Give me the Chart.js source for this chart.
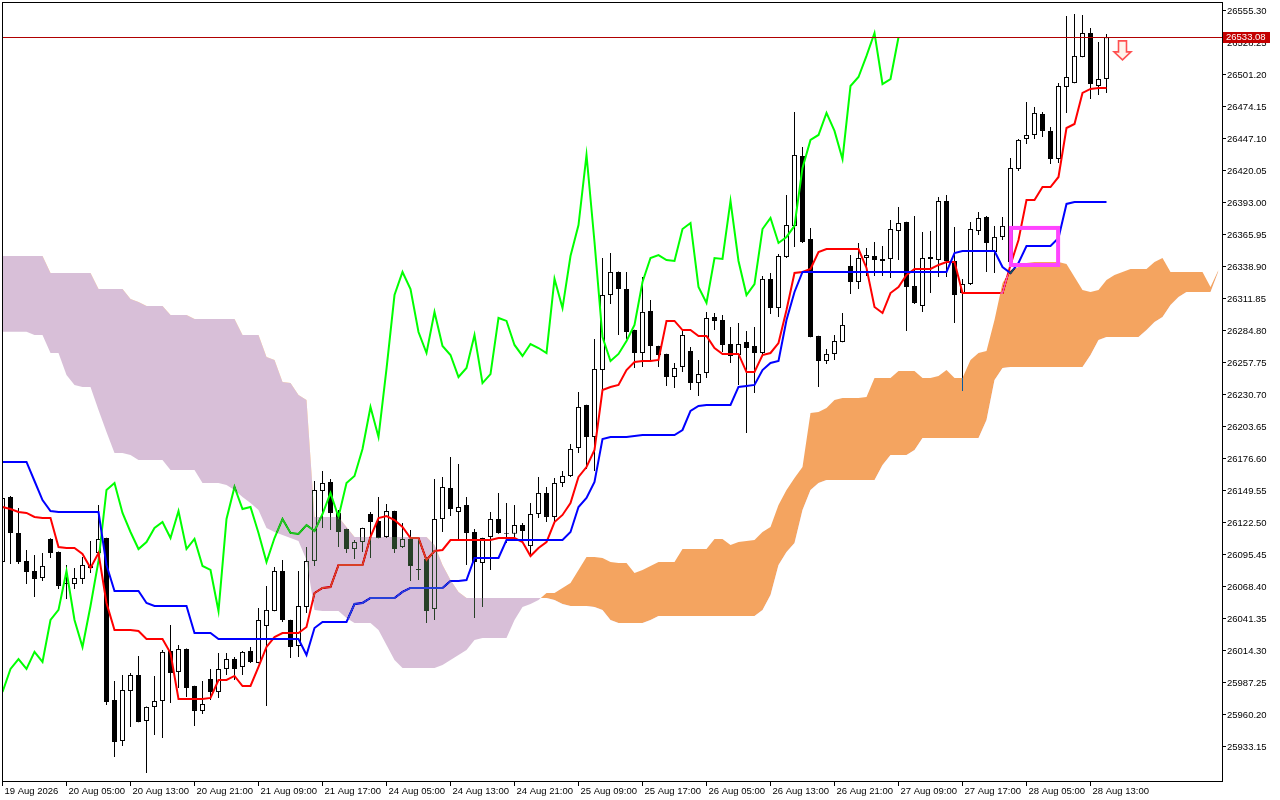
<!DOCTYPE html>
<html><head><meta charset="utf-8">
<script src="https://cdn.jsdelivr.net/npm/chart.js@4.4.0/dist/chart.umd.min.js"></script>
<style>html,body{margin:0;padding:0;background:#fff;overflow:hidden}canvas{display:block}</style>
</head><body>
<canvas id="c" width="1280" height="800"></canvas>
<script>
const open=[26089.5,26144.5,26114.1,26090.4,26081.9,26076.0,26109.0,26098.0,26071.8,26070.9,
26075.2,26084.5,26097.1,26109.8,25972.9,25938.2,25980.5,25994.0,25955.1,25967.0,
25972.0,26014.3,25996.6,26016.0,25984.7,25963.6,25990.6,25979.6,25999.1,26007.5,
26000.8,26014.3,26004.2,26035.4,26048.1,26081.9,26040.5,26018.5,26051.5,26090.4,
26149.6,26157.2,26131.0,26117.4,26100.5,26106.4,26130.1,26124.2,26110.7,26132.6,
26102.2,26109.0,26083.6,26092.1,26049.8,26125.9,26152.1,26131.8,26137.7,26114.9,
26088.7,26110.7,26125.9,26114.1,26113.3,26120.8,26103.0,26130.1,26147.9,26127.6,
26156.3,26162.2,26185.9,26222.3,26195.2,26251.8,26315.2,26334.7,26320.3,26285.6,
26266.2,26301.7,26272.1,26265.4,26245.9,26254.4,26267.9,26240.8,26249.3,26296.6,
26294.1,26273.8,26264.5,26275.5,26272.1,26266.2,26328.8,26304.2,26347.4,26373.6,
26432.7,26362.6,26280.5,26259.4,26265.4,26275.5,26339.8,26326.2,26346.5,26348.2,
26345.7,26345.7,26369.3,26376.9,26322.8,26305.9,26347.4,26344.8,26394.7,26344.0,
26316.9,26324.5,26369.3,26381.2,26351.6,26364.3,26343.1,26421.7,26447.1,26450.5,
26468.2,26453.9,26430.2,26491.1,26494.4,26516.4,26536.7,26491.9,26497.8];
const high=[26146.2,26145.3,26135.2,26099.7,26095.5,26097.1,26109.5,26098.5,26087.0,26084.5,
26093.8,26107.3,26137.7,26110.0,25988.9,25994.0,25995.7,26010.1,25967.3,25993.2,
26015.1,26036.3,26019.4,26016.3,25985.0,25988.9,25999.1,26012.6,26012.6,26009.2,
26014.3,26017.7,26050.7,26069.3,26085.3,26091.2,26040.7,26081.9,26102.2,26158.0,
26166.5,26159.7,26133.5,26117.6,26108.1,26118.5,26131.8,26144.5,26138.6,26132.8,
26122.5,26116.6,26110.7,26093.8,26159.7,26161.4,26178.3,26172.4,26144.5,26117.4,
26110.0,26131.8,26147.9,26139.4,26137.7,26122.5,26139.4,26161.4,26152.9,26160.5,
26166.5,26189.3,26233.2,26222.5,26278.0,26346.5,26350.7,26335.0,26334.7,26285.8,
26330.4,26311.0,26272.3,26265.6,26257.8,26285.6,26271.3,26260.3,26300.9,26300.0,
26298.3,26288.2,26291.6,26284.8,26288.2,26331.3,26333.8,26349.9,26399.8,26469.9,
26440.3,26371.9,26280.7,26269.6,26281.4,26300.0,26349.0,26359.2,26354.9,26360.0,
26356.6,26378.6,26389.6,26377.1,26382.0,26368.5,26369.3,26398.1,26399.8,26372.7,
26328.8,26376.9,26385.4,26382.0,26373.6,26381.2,26431.0,26447.1,26478.4,26474.2,
26469.9,26457.2,26494.4,26551.1,26552.8,26551.9,26540.9,26529.1,26535.9];
const low=[26087.0,26087.8,26087.8,26070.9,26060.0,26073.5,26092.9,26066.7,26058.3,26066.7,
26070.9,26080.2,26095.5,25968.7,25924.7,25934.0,25950.1,25954.0,25911.2,25943.3,
25940.8,25970.3,25983.0,25975.4,25950.9,25961.0,25972.9,25974.6,25994.0,25989.8,
25994.0,26004.2,26004.0,25967.8,26047.9,26038.8,26008.4,26009.2,26046.4,26086.2,
26118.3,26116.6,26102.2,26097.1,26092.1,26098.0,26092.9,26109.6,26109.8,26097.1,
26101.4,26073.5,26074.3,26038.0,26040.5,26114.9,26128.4,26108.1,26087.0,26042.2,
26051.5,26082.8,26113.3,26105.6,26110.7,26105.6,26093.8,26126.7,26123.3,26123.3,
26152.9,26161.4,26181.7,26168.1,26166.5,26234.9,26307.6,26281.4,26278.0,26253.5,
26254.4,26260.3,26254.4,26238.3,26236.6,26250.1,26234.9,26229.9,26245.1,26285.6,
26267.1,26257.8,26239.2,26198.6,26232.4,26264.5,26299.2,26296.6,26346.5,26355.8,
26359.2,26279.5,26237.5,26256.9,26260.3,26275.3,26316.1,26320.3,26331.3,26331.3,
26331.3,26329.6,26344.8,26284.8,26307.6,26300.9,26316.9,26330.5,26330.5,26291.6,
26234.1,26323.7,26365.9,26334.7,26333.8,26361.7,26339.8,26420.1,26442.9,26447.1,
26448.8,26426.0,26426.8,26469.1,26494.2,26516.2,26480.9,26484.3,26486.0];
const close=[26143.6,26114.1,26089.5,26081.1,26075.2,26086.2,26097.1,26069.3,26070.9,26076.0,
26087.0,26086.2,26109.0,25971.2,25937.4,25981.3,25994.0,25954.3,25967.0,25972.0,
26013.5,25995.7,26016.0,25983.0,25963.6,25969.5,25979.6,25999.1,26007.5,25999.1,
26013.5,26005.0,26040.5,26049.0,26081.9,26040.5,26017.7,26052.3,26090.4,26150.4,
26156.3,26131.0,26114.9,26100.5,26106.4,26118.3,26123.3,26109.8,26132.6,26100.5,
26109.0,26086.2,26082.8,26048.1,26125.9,26152.9,26134.3,26136.0,26114.1,26089.5,
26109.8,26125.9,26114.1,26113.3,26120.8,26115.7,26130.1,26147.9,26127.6,26156.3,
26162.2,26185.1,26220.6,26195.2,26252.7,26315.2,26334.7,26320.3,26283.9,26266.2,
26300.9,26272.1,26264.5,26245.9,26253.5,26281.4,26240.8,26248.4,26295.8,26293.3,
26273.0,26263.7,26273.8,26270.4,26266.2,26328.8,26304.2,26348.2,26374.4,26433.6,
26360.0,26279.7,26259.4,26265.4,26276.3,26289.9,26326.2,26346.5,26349.0,26344.8,
26344.0,26371.0,26376.1,26322.0,26308.5,26346.5,26345.7,26394.7,26344.0,26315.2,
26324.5,26371.0,26380.3,26359.2,26364.3,26373.6,26422.6,26446.3,26450.5,26469.1,
26453.9,26430.2,26491.9,26499.5,26517.3,26536.7,26493.6,26497.8,26533.08];
const tenkan=[26136.0,26134.3,26131.8,26131.0,26127.6,26126.7,26126.7,26102.2,26101.4,26101.4,
26096.3,26084.5,26097.1,26054.9,26032.1,26032.1,26032.1,26031.2,26024.4,26024.4,
26024.4,26012.6,25973.7,25973.7,25973.7,25973.7,25974.6,25989.8,25989.8,25993.2,
25984.7,25984.7,26000.8,26017.7,26026.1,26029.5,26029.5,26029.5,26034.6,26063.3,
26067.6,26068.4,26087.0,26087.0,26087.0,26087.0,26110.7,26126.7,26128.4,26125.0,
26119.2,26109.8,26109.8,26091.2,26098.8,26099.7,26108.1,26108.1,26108.1,26108.1,
26108.1,26108.1,26109.8,26109.8,26109.8,26106.4,26094.6,26101.4,26106.4,26123.3,
26129.3,26139.4,26161.4,26169.8,26184.2,26234.9,26237.5,26239.2,26251.8,26258.6,
26259.4,26259.4,26260.3,26293.3,26293.3,26285.6,26285.6,26280.6,26280.6,26270.4,
26265.4,26265.4,26265.4,26250.1,26250.1,26264.5,26266.2,26274.6,26302.6,26333.8,
26334.7,26337.2,26351.6,26354.1,26354.1,26354.1,26354.1,26354.1,26338.1,26305.1,
26300.0,26316.9,26322.0,26332.1,26337.2,26337.2,26337.2,26340.6,26343.1,26343.1,
26316.9,26316.9,26316.9,26316.9,26316.9,26316.9,26340.6,26361.7,26395.5,26395.5,
26406.5,26406.5,26415.0,26456.4,26459.8,26486.0,26489.4,26490.2,26490.2];
const kijun=[26174.1,26174.1,26174.1,26174.1,26158.0,26141.9,26132.6,26131.8,26131.8,26131.8,
26131.8,26131.8,26131.8,26087.0,26065.0,26065.0,26065.0,26065.0,26054.9,26052.3,
26052.3,26052.3,26052.3,26052.3,26029.5,26029.5,26029.5,26024.4,26024.4,26024.4,
26024.4,26024.4,26024.4,26024.4,26024.4,26024.4,26024.4,26024.4,26010.9,26033.7,
26038.8,26038.8,26038.8,26038.8,26054.0,26054.9,26059.1,26059.1,26059.1,26059.1,
26064.2,26067.6,26067.6,26067.6,26067.6,26067.6,26073.5,26073.5,26074.3,26092.9,
26092.9,26092.9,26092.9,26108.1,26108.1,26108.1,26108.1,26108.1,26108.1,26108.1,
26108.1,26114.9,26136.0,26143.6,26157.2,26193.5,26195.2,26195.2,26195.2,26196.0,
26196.9,26196.9,26196.9,26196.9,26196.9,26201.1,26217.2,26221.4,26222.3,26222.3,
26222.3,26222.3,26237.5,26238.3,26239.2,26251.8,26257.8,26259.4,26294.1,26317.8,
26334.7,26334.7,26334.7,26334.7,26334.7,26334.7,26334.7,26334.7,26334.7,26334.7,
26334.7,26334.7,26334.7,26334.7,26334.7,26334.7,26334.7,26334.7,26334.7,26350.7,
26352.4,26352.4,26352.4,26352.4,26352.4,26338.9,26333.8,26342.3,26356.6,26356.6,
26356.6,26356.6,26363.4,26392.2,26393.9,26393.9,26393.9,26393.9,26393.9];
const chikou=[25979.6,25999.1,26007.5,25999.1,26013.5,26005.0,26040.5,26049.0,26081.9,26040.5,
26017.7,26052.3,26090.4,26150.4,26156.3,26131.0,26114.9,26100.5,26106.4,26118.3,
26123.3,26109.8,26132.6,26100.5,26109.0,26086.2,26082.8,26048.1,26125.9,26152.9,
26134.3,26136.0,26114.1,26089.5,26109.8,26125.9,26114.1,26113.3,26120.8,26115.7,
26130.1,26147.9,26127.6,26156.3,26162.2,26185.1,26220.6,26195.2,26252.7,26315.2,
26334.7,26320.3,26283.9,26266.2,26300.9,26272.1,26264.5,26245.9,26253.5,26281.4,
26240.8,26248.4,26295.8,26293.3,26273.0,26263.7,26273.8,26270.4,26266.2,26328.8,
26304.2,26348.2,26374.4,26433.6,26360.0,26279.7,26259.4,26265.4,26276.3,26289.9,
26326.2,26346.5,26349.0,26344.8,26344.0,26371.0,26376.1,26322.0,26308.5,26346.5,
26345.7,26394.7,26344.0,26315.2,26324.5,26371.0,26380.3,26359.2,26364.3,26373.6,
26422.6,26446.3,26450.5,26469.1,26453.9,26430.2,26491.9,26499.5,26517.3,26536.7,
26493.6,26497.8,26533.08];
const spanA=[26284.2,26284.2,26284.2,26284.2,26281.4,26281.4,26266.2,26266.2,26247.6,26239.2,
26237.5,26237.5,26218.0,26199.4,26181.7,26181.7,26180.0,26175.8,26175.8,26175.8,
26175.8,26167.3,26167.3,26167.3,26167.3,26156.3,26156.3,26156.3,26154.6,26150.4,
26144.5,26139.4,26133.5,26118.3,26114.9,26112.4,26109.8,26107.3,26091.2,26049.0,
26048.1,26048.1,26048.1,26042.2,26038.0,26038.0,26038.0,26032.1,26019.4,26006.7,
25999.9,25999.9,25999.9,25999.9,25999.9,26002.5,26006.7,26010.9,26015.1,26023.6,
26025.3,26025.3,26025.3,26025.3,26040.5,26051.5,26054.0,26057.4,26063.3,26063.3,
26067.6,26071.8,26082.8,26093.8,26093.8,26092.9,26089.5,26088.7,26088.7,26080.2,
26082.8,26086.2,26089.5,26089.5,26089.5,26100.5,26100.5,26100.5,26100.5,26109.0,
26109.0,26103.9,26106.4,26107.3,26108.1,26114.9,26119.1,26137.7,26150.4,26160.5,
26169.8,26215.5,26216.3,26219.7,26226.5,26228.2,26228.2,26228.2,26229.0,26245.1,
26245.1,26245.1,26251.0,26251.0,26251.0,26245.1,26245.1,26246.8,26251.8,26245.1,
26245.1,26260.3,26266.2,26267.9,26294.1,26325.4,26336.4,26338.9,26342.3,26343.1,
26343.1,26343.1,26343.1,26341.4,26330.4,26319.5,26317.8,26319.5,26327.9,26332.1,
26334.7,26337.2,26337.2,26337.2,26343.1,26346.5,26334.7,26334.7,26334.7,26334.7,
26334.7,26322.0,26336.4];
const spanB=[26348.2,26348.2,26348.2,26348.2,26348.2,26348.2,26333.8,26333.8,26333.8,26333.8,
26333.8,26333.8,26320.3,26320.3,26320.3,26320.3,26311.8,26309.3,26305.9,26305.9,
26305.9,26298.3,26298.3,26298.3,26294.9,26294.9,26294.9,26294.9,26294.9,26294.9,
26281.4,26281.4,26281.4,26262.8,26260.3,26241.7,26240.8,26230.7,26226.5,26127.6,
26127.6,26127.6,26127.6,26119.1,26110.7,26110.7,26110.7,26110.7,26110.7,26110.7,
26110.7,26110.7,26110.7,26110.7,26103.9,26087.0,26074.3,26064.2,26059.1,26059.1,
26059.1,26059.1,26059.1,26059.1,26059.1,26059.1,26059.1,26059.1,26059.1,26057.4,
26054.0,26052.3,26052.3,26052.3,26051.5,26049.0,26040.5,26038.0,26038.0,26038.0,
26038.0,26040.5,26043.9,26043.9,26043.9,26043.9,26043.9,26043.9,26043.9,26043.9,
26043.9,26043.9,26043.9,26043.9,26043.9,26049.0,26061.6,26087.0,26098.0,26105.6,
26133.5,26150.4,26156.3,26158.9,26158.9,26158.9,26158.9,26158.9,26158.9,26158.9,
26171.5,26180.0,26180.0,26180.0,26184.2,26194.4,26194.4,26194.4,26194.4,26194.4,
26194.4,26194.4,26194.4,26209.6,26243.4,26253.5,26254.4,26254.4,26254.4,26254.4,
26254.4,26254.4,26254.4,26254.4,26254.4,26254.4,26264.5,26277.2,26279.7,26279.7,
26279.7,26279.7,26279.7,26285.6,26292.4,26296.6,26306.8,26313.5,26317.8,26317.8,
26317.8,26317.8,26335.5];
const xTickIdx=[0,8,16,24,32,40,48,56,64,72,80,88,96,104,112,120,128,136];
const xTickText=["19 Aug 2026","20 Aug 05:00","20 Aug 13:00","20 Aug 21:00","21 Aug 09:00","21 Aug 17:00",
"24 Aug 05:00","24 Aug 13:00","24 Aug 21:00","25 Aug 09:00","25 Aug 17:00","26 Aug 05:00",
"26 Aug 13:00","26 Aug 21:00","27 Aug 09:00","27 Aug 17:00","28 Aug 05:00","28 Aug 13:00"];
const yTicks=[25933.15,25960.20,25987.25,26014.30,26041.35,26068.40,26095.45,26122.50,26149.55,26176.60,
26203.65,26230.70,26257.75,26284.80,26311.85,26338.90,26365.95,26393.00,26420.05,26447.10,
26474.15,26501.20,26528.25,26555.30];
const lastPrice=26533.08;
const signalIdx=140, signalPrice=26530.0;
const boxIdx=[125.8,132.2], boxPrice=[26338.9,26373.6];

const FONT={family:'Liberation Sans, Arial, sans-serif',size:9.5};
const pts=a=>a.map((v,i)=>({x:i,y:v}));
const idx=close.map((_,i)=>i);

const bgPlugin={id:'bg',beforeDraw(ch){const c=ch.ctx;c.save();c.fillStyle='#fff';c.fillRect(0,0,ch.width,ch.height);c.restore();}};
const blendPlugin={id:'blend',afterDatasetDraw(ch,args){
  if(args.index===5) ch.ctx.globalCompositeOperation='difference';
  if(args.index===6) ch.ctx.globalCompositeOperation='source-over';
}};
const overlay={id:'overlay',
 afterDatasetsDraw(ch){
  const c=ch.ctx,x=ch.scales.x,y=ch.scales.y,a=ch.chartArea;
  c.save();
  c.globalCompositeOperation='source-over';
  const py=Math.round(y.getPixelForValue(lastPrice))+0.5;
  c.strokeStyle='#b00000';c.lineWidth=1;
  c.beginPath();c.moveTo(a.left,py);c.lineTo(a.right,py);c.stroke();
  const x1=x.getPixelForValue(boxIdx[0]),x2=x.getPixelForValue(boxIdx[1]);
  const y1=y.getPixelForValue(boxPrice[1]),y2=y.getPixelForValue(boxPrice[0]);
  c.strokeStyle='#ff44ff';c.lineWidth=4;
  c.strokeRect(x1+2,y1+2,x2-x1-4,y2-y1-4);
  const ax=x.getPixelForValue(signalIdx),ay=y.getPixelForValue(signalPrice);
  c.beginPath();
  c.moveTo(ax-4,ay);c.lineTo(ax+4,ay);c.lineTo(ax+4,ay+11);c.lineTo(ax+8.5,ay+11);
  c.lineTo(ax,ay+19);c.lineTo(ax-8.5,ay+11);c.lineTo(ax-4,ay+11);c.closePath();
  c.fillStyle='#fff4ec';c.fill();
  c.strokeStyle='#ff5050';c.lineWidth=1.6;c.stroke();
  c.strokeStyle='#000';c.lineWidth=1;
  c.strokeRect(a.left+0.5,a.top+0.5,a.right-a.left,a.bottom-a.top);
  c.restore();
 },
 afterDraw(ch){
  const c=ch.ctx,y=ch.scales.y,a=ch.chartArea;
  const py=Math.round(y.getPixelForValue(lastPrice));
  c.save();
  c.fillStyle='#c40000';
  c.fillRect(a.right+1,py-5,47,11);
  c.fillStyle='#fff';c.font='9.5px "Liberation Sans", Arial, sans-serif';
  c.textBaseline='middle';c.textAlign='left';
  c.fillText(lastPrice.toFixed(2),a.right+4,py+0.5);
  c.restore();
 }};

new Chart(document.getElementById('c'),{
 type:'bar',
 data:{datasets:[
  {label:'wick',data:idx.map(i=>({x:i,y:[low[i],high[i]]})),backgroundColor:'#000',borderWidth:0,
   barThickness:1,grouped:false,inflateAmount:0,order:7},
  {label:'body',data:idx.map(i=>({x:i,y:[open[i],close[i]]})),
   backgroundColor:idx.map(i=>close[i]>=open[i]?'#ffffff':'#000000'),borderColor:'#000',borderWidth:1,
   borderSkipped:false,barThickness:5,grouped:false,inflateAmount:0,order:6},
  {type:'line',label:'Tenkan-sen',data:pts(tenkan),borderColor:'#ff0000',borderWidth:2,pointRadius:0,tension:0,fill:false,order:4},
  {type:'line',label:'Kijun-sen',data:pts(kijun),borderColor:'#0000ff',borderWidth:2,pointRadius:0,tension:0,fill:false,order:3},
  {type:'line',label:'Chikou Span',data:pts(chikou),borderColor:'#00ff00',borderWidth:2,pointRadius:0,tension:0,fill:false,order:5},
  {type:'line',label:'Senkou Span B',data:pts(spanB),borderColor:'rgba(0,0,0,0)',borderWidth:0,pointRadius:0,tension:0,fill:false,order:2},
  {type:'line',label:'Senkou Span A',data:pts(spanA),borderColor:'rgba(0,0,0,0)',borderWidth:0,pointRadius:0,tension:0,
   fill:{target:'-1',above:'rgb(11,91,159)',below:'rgb(39,64,39)'},order:1}
 ]},
 options:{
  responsive:false,animation:false,devicePixelRatio:1,events:[],
  layout:{padding:{left:2,top:2,right:0,bottom:0},autoPadding:false},
  plugins:{legend:{display:false},tooltip:{enabled:false},filler:{drawTime:'beforeDatasetDraw',propagate:false}},
  scales:{
   x:{type:'linear',position:'bottom',offset:false,min:-0.0625,max:152.4375,
    afterBuildTicks(s){s.ticks=xTickIdx.map(v=>({value:v}));},
    afterFit(s){s.height=19;s.paddingLeft=0;s.paddingRight=0;},
    ticks:{autoSkip:false,maxRotation:0,minRotation:0,align:'start',labelOffset:2,padding:0,color:'#000',font:FONT,
     callback:v=>{const k=xTickIdx.indexOf(v);return k<0?'':xTickText[k];}},
    grid:{display:true,offset:false,drawOnChartArea:false,drawTicks:true,tickLength:5,tickColor:'#000',color:'#000'},
    border:{display:false}},
   y:{type:'linear',position:'right',min:25904.4,max:26562.9,
    afterBuildTicks(s){s.ticks=yTicks.map(v=>({value:v}));},
    afterFit(s){s.width=58;s.paddingTop=0;s.paddingBottom=0;},
    ticks:{padding:1,color:'#000',font:FONT,callback:v=>Number(v).toFixed(2)},
    grid:{display:true,drawOnChartArea:false,drawTicks:true,tickLength:4,tickColor:'#000',color:'#000'},
    border:{display:false}}
  }
 },
 plugins:[bgPlugin,blendPlugin,overlay]
});
</script>
</body></html>
